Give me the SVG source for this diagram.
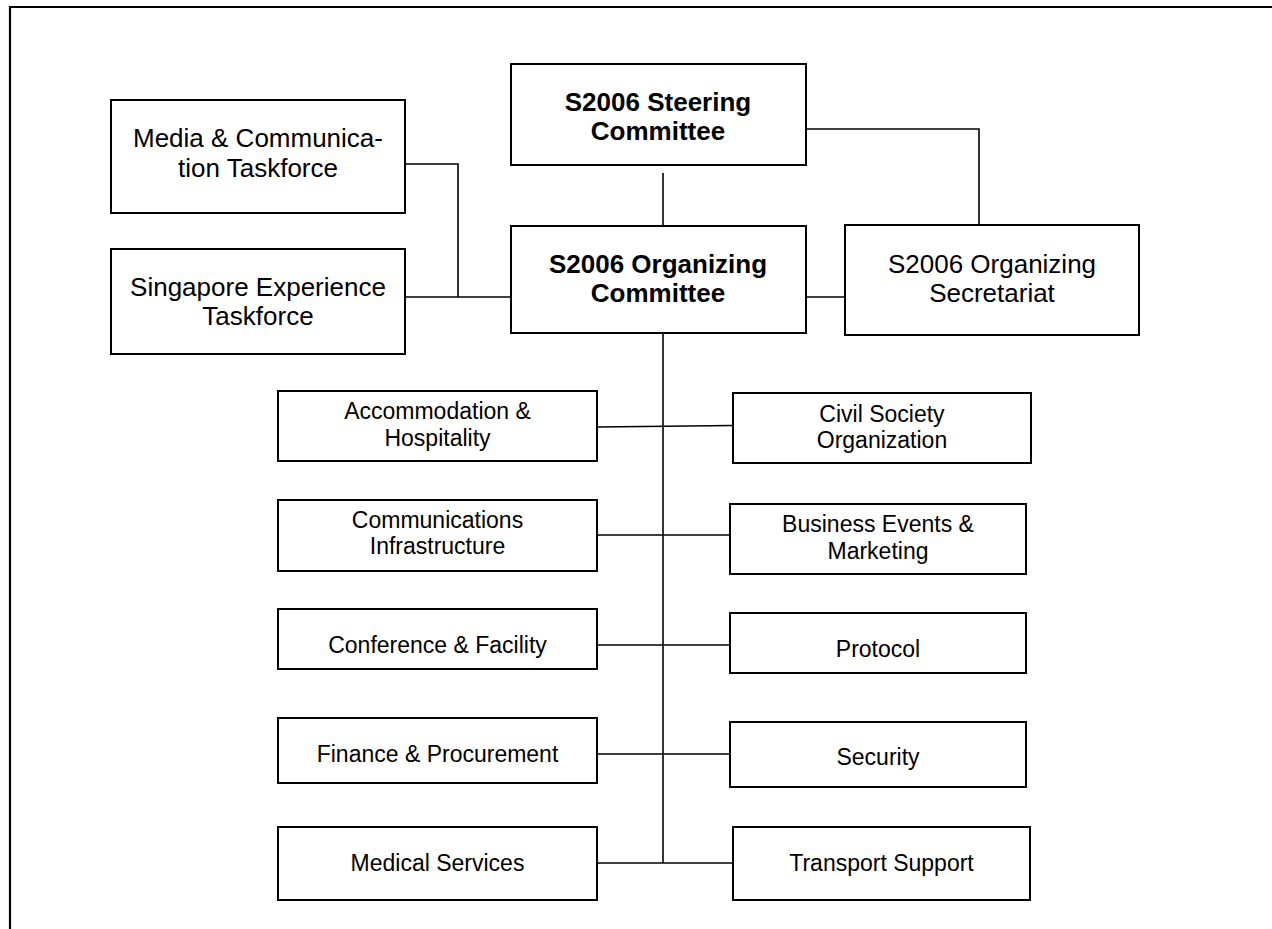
<svg xmlns="http://www.w3.org/2000/svg" width="1272" height="929" viewBox="0 0 1272 929">
<style>
.box{fill:#fff;stroke:#000;stroke-width:2}
.c{fill:none;stroke:#000;stroke-width:1.6}
.t{font-family:"Liberation Sans",Arial,sans-serif;font-size:26px;fill:#000;text-anchor:middle}
.b{font-weight:bold}
.s{font-family:"Liberation Sans",Arial,sans-serif;font-size:23px;fill:#000;text-anchor:middle}
</style>
<rect width="1272" height="929" fill="#fff"/>
<path d="M10,929 V7 H1272" fill="none" stroke="#000" stroke-width="2.2"/>
<g id="connectors">
<path class="c" d="M405,164 H458 V297"/>
<path class="c" d="M405,297 H511"/>
<path class="c" d="M663,173 V226"/>
<path class="c" d="M806,129 H979 V225"/>
<path class="c" d="M806,297 H845"/>
<path class="c" d="M663,333 V863"/>
<path class="c" d="M597,427 L733,425.5"/>
<path class="c" d="M597,535 H730"/>
<path class="c" d="M597,645 H730"/>
<path class="c" d="M597,754 H730"/>
<path class="c" d="M597,863 H733"/>
</g>
<g id="media"><rect class="box" x="111" y="100" width="294" height="113"/><text class="t" x="258" y="147">Media &amp; Communica-</text><text class="t" x="258" y="177">tion Taskforce</text></g>
<g id="singapore"><rect class="box" x="111" y="249" width="294" height="105"/><text class="t" x="258" y="296">Singapore Experience</text><text class="t" x="258" y="325">Taskforce</text></g>
<g id="steering"><rect class="box" x="511" y="64" width="295" height="101"/><text class="t b" x="658" y="111">S2006 Steering</text><text class="t b" x="658" y="140">Committee</text></g>
<g id="organizing"><rect class="box" x="511" y="226" width="295" height="107"/><text class="t b" x="658" y="273">S2006 Organizing</text><text class="t b" x="658" y="302">Committee</text></g>
<g id="secretariat"><rect class="box" x="845" y="225" width="294" height="110"/><text class="t" x="992" y="273">S2006 Organizing</text><text class="t" x="992" y="302">Secretariat</text></g>
<g id="accommodation"><rect class="box" x="278" y="391" width="319" height="70"/><text class="s" x="437.5" y="419">Accommodation &amp;</text><text class="s" x="437.5" y="446">Hospitality</text></g>
<g id="civil"><rect class="box" x="733" y="393" width="298" height="70"/><text class="s" x="882" y="422">Civil Society</text><text class="s" x="882" y="448">Organization</text></g>
<g id="communications"><rect class="box" x="278" y="500" width="319" height="71"/><text class="s" x="437.5" y="528">Communications</text><text class="s" x="437.5" y="554">Infrastructure</text></g>
<g id="business"><rect class="box" x="730" y="504" width="296" height="70"/><text class="s" x="878" y="532">Business Events &amp;</text><text class="s" x="878" y="559">Marketing</text></g>
<g id="conference"><rect class="box" x="278" y="609" width="319" height="60"/><text class="s" x="437.5" y="653">Conference &amp; Facility</text></g>
<g id="protocol"><rect class="box" x="730" y="613" width="296" height="60"/><text class="s" x="878" y="657">Protocol</text></g>
<g id="finance"><rect class="box" x="278" y="718" width="319" height="65"/><text class="s" x="437.5" y="762">Finance &amp; Procurement</text></g>
<g id="security"><rect class="box" x="730" y="722" width="296" height="65"/><text class="s" x="878" y="765">Security</text></g>
<g id="medical"><rect class="box" x="278" y="827" width="319" height="73"/><text class="s" x="437.5" y="871">Medical Services</text></g>
<g id="transport"><rect class="box" x="733" y="827" width="297" height="73"/><text class="s" x="881.5" y="871">Transport Support</text></g>
</svg>
